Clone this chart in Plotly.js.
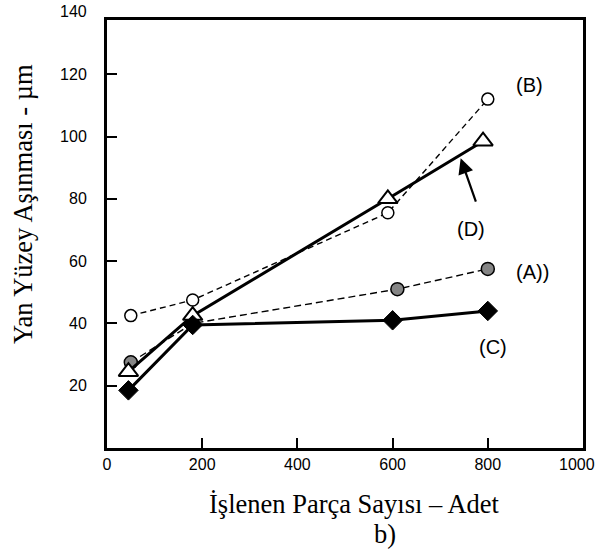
<!DOCTYPE html>
<html>
<head>
<meta charset="utf-8">
<script src="https://cdn.plot.ly/plotly-3.0.1.min.js"></script>
<style>
  html, body { margin: 0; padding: 0; background: #fff; }
  #chart { width: 595px; height: 551px; }
</style>
</head>
<body>
<div id="chart"></div>
<script>
// Flank wear vs. number of machined parts, four test conditions
const xB = [50, 180, 590, 800];
const yB = [42.5, 47.5, 75.5, 112];

const xD = [45, 180, 590, 790];
const yD = [24.5, 42.5, 80, 98.5];

const xA = [50, 180, 610, 800];
const yA = [27.5, 40, 51, 57.5];

const xC = [45, 180, 600, 800];
const yC = [18.5, 39.5, 41, 44];

const xTicks = [0, 200, 400, 600, 800, 1000];
const yTicks = [20, 40, 60, 80, 100, 120];

const Y_MAX = 137.4;

const traces = [
  {
    x: xB, y: yB, mode: 'lines+markers', name: '(B)',
    line: { color: '#000', width: 1.4, dash: '6px,4px' },
    marker: { symbol: 'circle', size: 12, color: '#fff', line: { color: '#000', width: 1.5 } }
  },
  {
    x: xA, y: yA, mode: 'lines+markers', name: '(A)',
    line: { color: '#000', width: 1.4, dash: '7px,4px' },
    marker: { symbol: 'circle', size: 13, color: '#858585', line: { color: '#000', width: 1.5 } }
  },
  {
    x: xD, y: yD, mode: 'lines+markers', name: '(D)',
    line: { color: '#000', width: 3 },
    marker: { symbol: 'triangle-up', size: 17, color: '#fff', line: { color: '#000', width: 2 } }
  },
  {
    x: xC, y: yC, mode: 'lines+markers', name: '(C)',
    line: { color: '#000', width: 3 },
    marker: { symbol: 'diamond', size: 15, color: '#000', line: { color: '#000', width: 1 } }
  }
];

const sans = 'Liberation Sans, Arial, sans-serif';
const serif = 'Liberation Serif, Times New Roman, serif';
const labelFont = { family: sans, size: 20, color: '#000' };
const titleFont = { family: serif, size: 26.5, color: '#000' };

// the last x tick label is right-aligned to stay inside the page
const lastX = xTicks[xTicks.length - 1];
const xTickText = xTicks.map(v => (v === lastX ? '' : String(v)));

const layout = {
  width: 595, height: 551,
  margin: { l: 107, r: 12, t: 20, b: 103 },
  paper_bgcolor: '#fff', plot_bgcolor: '#fff',
  showlegend: false,
  font: { family: sans, size: 16, color: '#000' },
  xaxis: {
    range: [0, 1000], tickvals: xTicks, ticktext: xTickText,
    ticks: 'inside', ticklen: 10, tickwidth: 2, tickcolor: '#000',
    showline: true, linewidth: 3, linecolor: '#000', mirror: true,
    showgrid: false, zeroline: false,
    tickfont: { size: 16 }
  },
  yaxis: {
    range: [0, Y_MAX], tickvals: yTicks, ticktext: yTicks.map(String),
    ticks: 'inside', ticklen: 10, tickwidth: 2, tickcolor: '#000',
    showline: true, linewidth: 3, linecolor: '#000', mirror: true,
    showgrid: false, zeroline: false, ticklabelstandoff: 14,
    tickfont: { size: 16 }
  },
  annotations: [
    // axis titles
    { xref: 'paper', yref: 'paper', x: (354 - 107) / 476, y: -(515 - 448) / 428,
      xanchor: 'center', yanchor: 'bottom', yshift: -6,
      text: 'İşlenen Parça Sayısı – Adet', showarrow: false, font: titleFont },
    { xref: 'paper', yref: 'paper', x: (385 - 107) / 476, y: -(551 - 448) / 428,
      xanchor: 'center', yanchor: 'bottom', yshift: 0,
      text: 'b)', showarrow: false, font: titleFont },
    { xref: 'paper', yref: 'paper', x: -(107 - 23) / 476, y: (448 - 204) / 428,
      xanchor: 'center', yanchor: 'middle', textangle: -90,
      text: 'Yan Yüzey Aşınması - µm', showarrow: false, font: titleFont },
    // tick labels placed by hand: 140 above the frame, 1000 at the right edge
    { xref: 'paper', yref: 'paper', x: 0, y: 140 / Y_MAX, xanchor: 'right', yanchor: 'middle',
      xshift: -18, text: '140', showarrow: false, font: { size: 16 } },
    { xref: 'paper', yref: 'paper', x: 1, y: 0, xanchor: 'right', yanchor: 'top',
      xshift: 14, yshift: -6, text: String(lastX), showarrow: false, font: { size: 16 } },
    // series labels
    { x: 888, y: 116.5, text: '(B)', showarrow: false, font: labelFont },
    { x: 894, y: 56.5, text: '(A))', showarrow: false, font: labelFont },
    { x: 810, y: 32.4, text: '(C)', showarrow: false, font: labelFont },
    { x: 764, y: 70.3, text: '(D)', showarrow: false, font: labelFont },
    { x: 743, y: 93, ax: 776, ay: 78.6, axref: 'x', ayref: 'y',
      text: '', showarrow: true, arrowhead: 2, arrowsize: 1.4, arrowwidth: 2.2, arrowcolor: '#000',
      standoff: 0 }
  ]
};

Plotly.newPlot('chart', traces, layout, { displayModeBar: false, staticPlot: true });
</script>
</body>
</html>
